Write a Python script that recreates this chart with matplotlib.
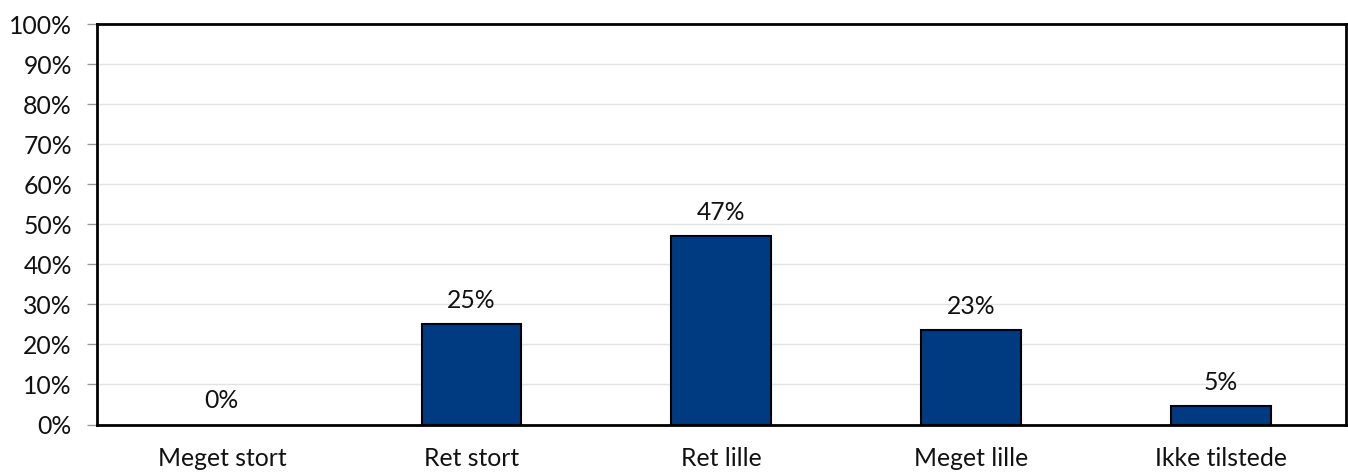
import matplotlib
matplotlib.use("Agg")
import matplotlib.pyplot as plt
from matplotlib.ticker import FuncFormatter, MultipleLocator

categories = ["Meget stort", "Ret stort", "Ret lille", "Meget lille", "Ikke tilstede"]
values = [0, 25, 47, 23.5, 4.6]
value_labels = ["0%", "25%", "47%", "23%", "5%"]

plt.rcParams['font.family'] = ['Lato', 'DejaVu Sans']

fig = plt.figure(figsize=(13.48, 4.72), dpi=100)
ax = fig.add_axes([97/1348, 1 - 424.5/472, (1345.5-97)/1348, (424.5-24)/472])

x = list(range(len(categories)))
edge = ["black" if v > 0 else "none" for v in values]
bars = ax.bar(x, values, width=0.4, color="#003A80", edgecolor=edge, linewidth=1.5, zorder=3)

for xi, v, lab in zip(x, values, value_labels):
    ax.annotate(lab, (xi, v), xytext=(0, 17.3), textcoords="offset points",
                ha="center", va="center", fontsize=17.8, color="#111111")

ax.set_xlim(-0.5, len(categories) - 0.5)
ax.set_ylim(0, 100)
ax.yaxis.set_major_locator(MultipleLocator(10))
ax.yaxis.set_major_formatter(FuncFormatter(lambda v, p: f"{int(v)}%"))
ax.grid(axis="y", color="#e3e3e3", linewidth=1, zorder=0)
ax.set_xticks(x)
ax.set_xticklabels(categories)
ax.tick_params(axis="x", length=0, pad=16, labelsize=17.8, labelcolor="#111111")
ax.tick_params(axis="y", length=7, color="#999999", width=1, pad=11, labelsize=17.8, labelcolor="#111111")
for s in ax.spines.values():
    s.set_color("black")
    s.set_linewidth(2)
    s.set_zorder(5)

fig.savefig("out.png", dpi=100)
